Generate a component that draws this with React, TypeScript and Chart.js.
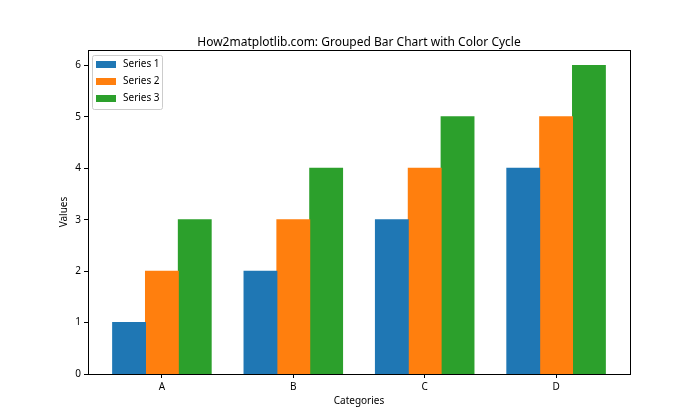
import { useEffect, useRef } from 'react';
import { Chart, registerables } from 'chart.js';
Chart.register(...registerables);

const categories = ['A', 'B', 'C', 'D'];
const seriesNames = ['Series 1', 'Series 2', 'Series 3'];
const series1 = [1, 2, 3, 4];
const series2 = [2, 3, 4, 5];
const series3 = [3, 4, 5, 6];
const yTicks = [0, 1, 2, 3, 4, 5, 6];
const colors = ['#1f77b4', '#ff7f0e', '#2ca02c'];
const titleText = 'How2matplotlib.com: Grouped Bar Chart with Color Cycle';
const xTitle = 'Categories';
const yTitle = 'Values';
const FONT = "'Noto Sans', sans-serif";

const allSeries = [series1, series2, series3];

const framePlugin = {
  id: 'frame',
  afterDraw(chart: any) {
    const { ctx, chartArea } = chart;
    const { left, right, top, bottom } = chartArea;
    ctx.save();
    // spines
    ctx.strokeStyle = '#000';
    ctx.lineWidth = 1;
    ctx.strokeRect(Math.round(left) + 0.5, Math.round(top) + 0.5, Math.round(right - left), Math.round(bottom - top));
    // title
    ctx.fillStyle = '#000';
    ctx.font = `12px ${FONT}`;
    ctx.textAlign = 'center';
    ctx.textBaseline = 'alphabetic';
    ctx.fillText(titleText, (left + right) / 2, top - 4);
    // legend
    const lx = left + 4.5;
    const ly = top + 5.5;
    const lw = 70;
    const lh = 54;
    ctx.fillStyle = 'rgba(255,255,255,0.8)';
    ctx.strokeStyle = '#cccccc';
    ctx.lineWidth = 1;
    ctx.beginPath();
    if ((ctx as any).roundRect) (ctx as any).roundRect(lx, ly, lw, lh, 2);
    else ctx.rect(lx, ly, lw, lh);
    ctx.fill();
    ctx.stroke();
    ctx.font = `10px ${FONT}`;
    ctx.textAlign = 'left';
    seriesNames.forEach((name, i) => {
      const rowY = top + 14.5 + i * 17;
      ctx.fillStyle = colors[i];
      ctx.fillRect(left + 8, rowY - 3.5, 20, 7);
      ctx.fillStyle = '#000';
      ctx.textBaseline = 'middle';
      ctx.fillText(name, left + 35, rowY);
    });
    ctx.restore();
  },
};

export default function App() {
  const ref = useRef<HTMLCanvasElement>(null);
  useEffect(() => {
    document.body.style.margin = '0';
    const canvas = ref.current!;
    const chart = new Chart(canvas, {
      type: 'bar',
      data: {
        datasets: allSeries.map((s, i) => ({
          label: seriesNames[i],
          data: s.map((v, j) => ({ x: j, y: v })),
          backgroundColor: colors[i],
          borderWidth: 0,
          borderSkipped: false,
          inflateAmount: 0.5,
          categoryPercentage: 0.75,
          barPercentage: 1,
        })),
      },
      options: {
        animation: false,
        responsive: false,
        devicePixelRatio: 1,
        layout: { padding: { top: 50, right: 70, left: 0, bottom: 0 } },
        plugins: {
          legend: { display: false },
          title: { display: false },
          tooltip: { enabled: false },
        },
        scales: {
          x: {
            type: 'linear',
            offset: false,
            min: -0.5625,
            max: 3.5625,
            afterBuildTicks: (scale: any) => {
              scale.ticks = categories.map((_, i) => ({ value: i }));
            },
            afterFit: (scale: any) => {
              scale.height = 46;
            },
            ticks: {
              autoSkip: false,
              maxRotation: 0,
              padding: 3,
              color: '#000',
              font: { family: FONT, size: 10 },
              callback: (v: any) => categories[v as number] ?? '',
            },
            grid: { display: true, offset: false, drawOnChartArea: false, drawTicks: true, tickLength: 4, color: '#000', lineWidth: 1 },
            border: { display: true, color: '#000' },
            title: {
              display: true,
              text: xTitle,
              color: '#000',
              font: { family: FONT, size: 10 },
              padding: { top: 0, bottom: 13 },
            },
          },
          y: {
            type: 'linear',
            min: 0,
            max: 6.3,
            afterBuildTicks: (scale: any) => {
              scale.ticks = yTicks.map((v) => ({ value: v }));
            },
            afterFit: (scale: any) => {
              scale.width = 88;
            },
            ticks: {
              padding: 3,
              color: '#000',
              font: { family: FONT, size: 10 },
            },
            grid: { display: true, drawOnChartArea: false, drawTicks: true, tickLength: 4, color: '#000', lineWidth: 1 },
            border: { display: true, color: '#000' },
            title: {
              display: true,
              text: yTitle,
              color: '#000',
              font: { family: FONT, size: 10 },
              padding: { top: 58, bottom: 0 },
            },
          },
        },
      },
      plugins: [framePlugin],
    } as any);
    return () => chart.destroy();
  }, []);
  return (
    <div style={{ width: 700, height: 420, background: '#fff' }}>
      <canvas ref={ref} width={700} height={420} />
    </div>
  );
}
